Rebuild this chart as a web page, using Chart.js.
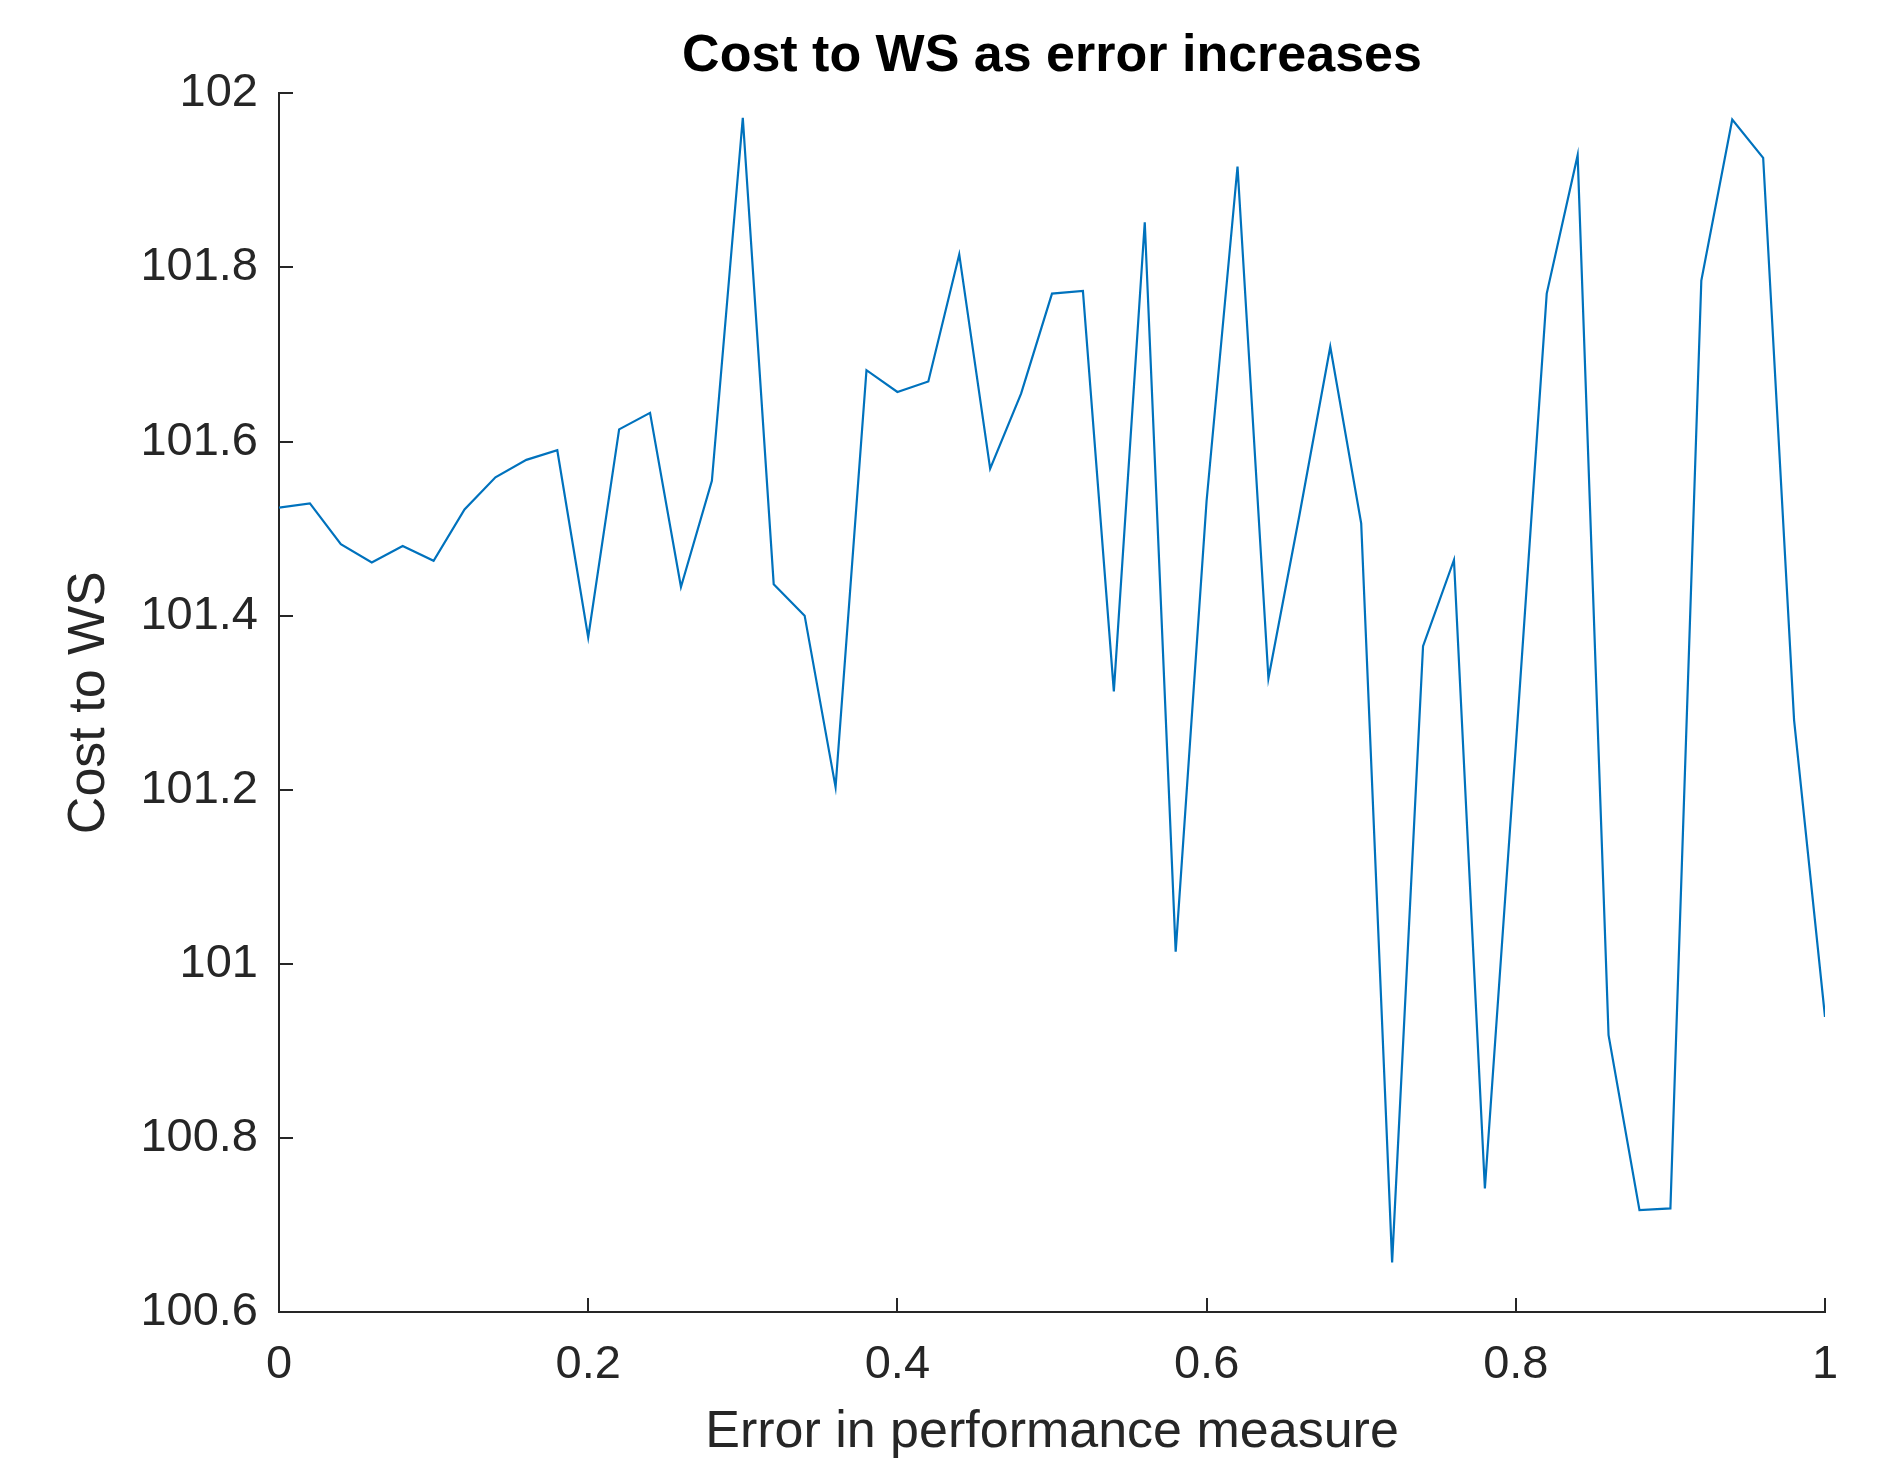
<!DOCTYPE html>
<html>
<head>
<meta charset="utf-8">
<script src="https://cdn.jsdelivr.net/npm/chart.js@4.4.0/dist/chart.umd.min.js"></script>
<style>
  html, body { margin: 0; padding: 0; background: #ffffff; }
  #wrap { width: 1900px; height: 1459px; position: relative; }
</style>
</head>
<body>
<div id="wrap"><canvas id="c"></canvas></div>
<script>
const errorValues = [0.00,0.02,0.04,0.06,0.08,0.10,0.12,0.14,0.16,0.18,0.20,0.22,0.24,0.26,0.28,0.30,0.32,0.34,0.36,0.38,0.40,0.42,0.44,0.46,0.48,0.50,0.52,0.54,0.56,0.58,0.60,0.62,0.64,0.66,0.68,0.70,0.72,0.74,0.76,0.78,0.80,0.82,0.84,0.86,0.88,0.90,0.92,0.94,0.96,0.98,1.00];
const costToWS = [101.524,101.529,101.482,101.461,101.480,101.463,101.522,101.559,101.579,101.590,101.375,101.614,101.633,101.433,101.555,101.972,101.436,101.400,101.203,101.682,101.657,101.669,101.815,101.569,101.655,101.770,101.773,101.313,101.852,101.014,101.532,101.916,101.328,101.515,101.709,101.506,100.657,101.365,101.464,100.742,101.250,101.770,101.929,100.918,100.717,100.719,101.785,101.970,101.926,101.280,100.939];
const xTicks = [0, 0.2, 0.4, 0.6, 0.8, 1];
const xTickLabels = ['0', '0.2', '0.4', '0.6', '0.8', '1'];
const yTicks = [100.6, 100.8, 101, 101.2, 101.4, 101.6, 101.8, 102];
const yTickLabels = ['100.6', '100.8', '101', '101.2', '101.4', '101.6', '101.8', '102'];
const chartTitle = 'Cost to WS as error increases';
const xTitle = 'Error in performance measure';
const yTitle = 'Cost to WS';

const FONT = '"Liberation Sans", Arial, Helvetica, sans-serif';
const AXIS = '#262626';

const inwardTicks = {
  id: 'inwardTicks',
  afterDraw(chart) {
    const ctx = chart.ctx;
    const xs = chart.scales.x, ys = chart.scales.y;
    const len = 14;
    ctx.save();
    ctx.strokeStyle = AXIS;
    ctx.lineWidth = 2;
    ctx.beginPath();
    xs.ticks.forEach(t => {
      const px = Math.round(xs.getPixelForValue(t.value));
      ctx.moveTo(px, xs.top);
      ctx.lineTo(px, xs.top - len);
    });
    ys.ticks.forEach(t => {
      const py = Math.round(ys.getPixelForValue(t.value));
      ctx.moveTo(ys.right, py);
      ctx.lineTo(ys.right + len, py);
    });
    ctx.stroke();
    ctx.restore();
  }
};

new Chart(document.getElementById('c'), {
  type: 'line',
  data: {
    datasets: [{
      data: errorValues.map((x, i) => ({ x: x, y: costToWS[i] })),
      borderColor: '#0072BD',
      borderWidth: 2.2,
      pointRadius: 0,
      fill: false,
      tension: 0
    }]
  },
  options: {
    responsive: true,
    maintainAspectRatio: false,
    animation: false,
    layout: { padding: { left: 0, right: 75, top: 0, bottom: 0 } },
    plugins: {
      legend: { display: false },
      tooltip: { enabled: false },
      title: {
        display: true,
        fullSize: false,
        text: chartTitle,
        color: '#000000',
        font: { family: FONT, size: 52, weight: 'bold', lineHeight: 1.2 },
        padding: { top: 25, bottom: 6 }
      }
    },
    scales: {
      x: {
        type: 'linear',
        min: 0, max: 1,
        afterBuildTicks: s => { s.ticks = xTicks.map(v => ({ value: v })); },
        afterFit: s => { s.height = 147; },
        grid: { display: false, drawTicks: false },
        border: { display: true, color: AXIS, width: 2 },
        ticks: {
          color: AXIS,
          padding: 25,
          maxRotation: 0,
          font: { family: FONT, size: 47, lineHeight: 1.2 },
          callback: (v, i) => xTickLabels[i]
        },
        title: {
          display: true,
          text: xTitle,
          color: AXIS,
          font: { family: FONT, size: 52, lineHeight: 1 },
          padding: { top: 0, bottom: 0 }
        }
      },
      y: {
        type: 'linear',
        min: 100.6, max: 102,
        afterBuildTicks: s => { s.ticks = yTicks.map(v => ({ value: v })); },
        afterFit: s => { s.width = 279; },
        grid: { display: false, drawTicks: false },
        border: { display: true, color: AXIS, width: 2 },
        ticks: {
          color: AXIS,
          padding: 21,
          font: { family: FONT, size: 47, lineHeight: 1.2 },
          callback: (v, i) => yTickLabels[i]
        },
        title: {
          display: true,
          text: yTitle,
          color: AXIS,
          font: { family: FONT, size: 52, lineHeight: 1 },
          padding: { top: 64, bottom: 0 }
        }
      }
    }
  },
  plugins: [inwardTicks]
});
</script>
</body>
</html>
